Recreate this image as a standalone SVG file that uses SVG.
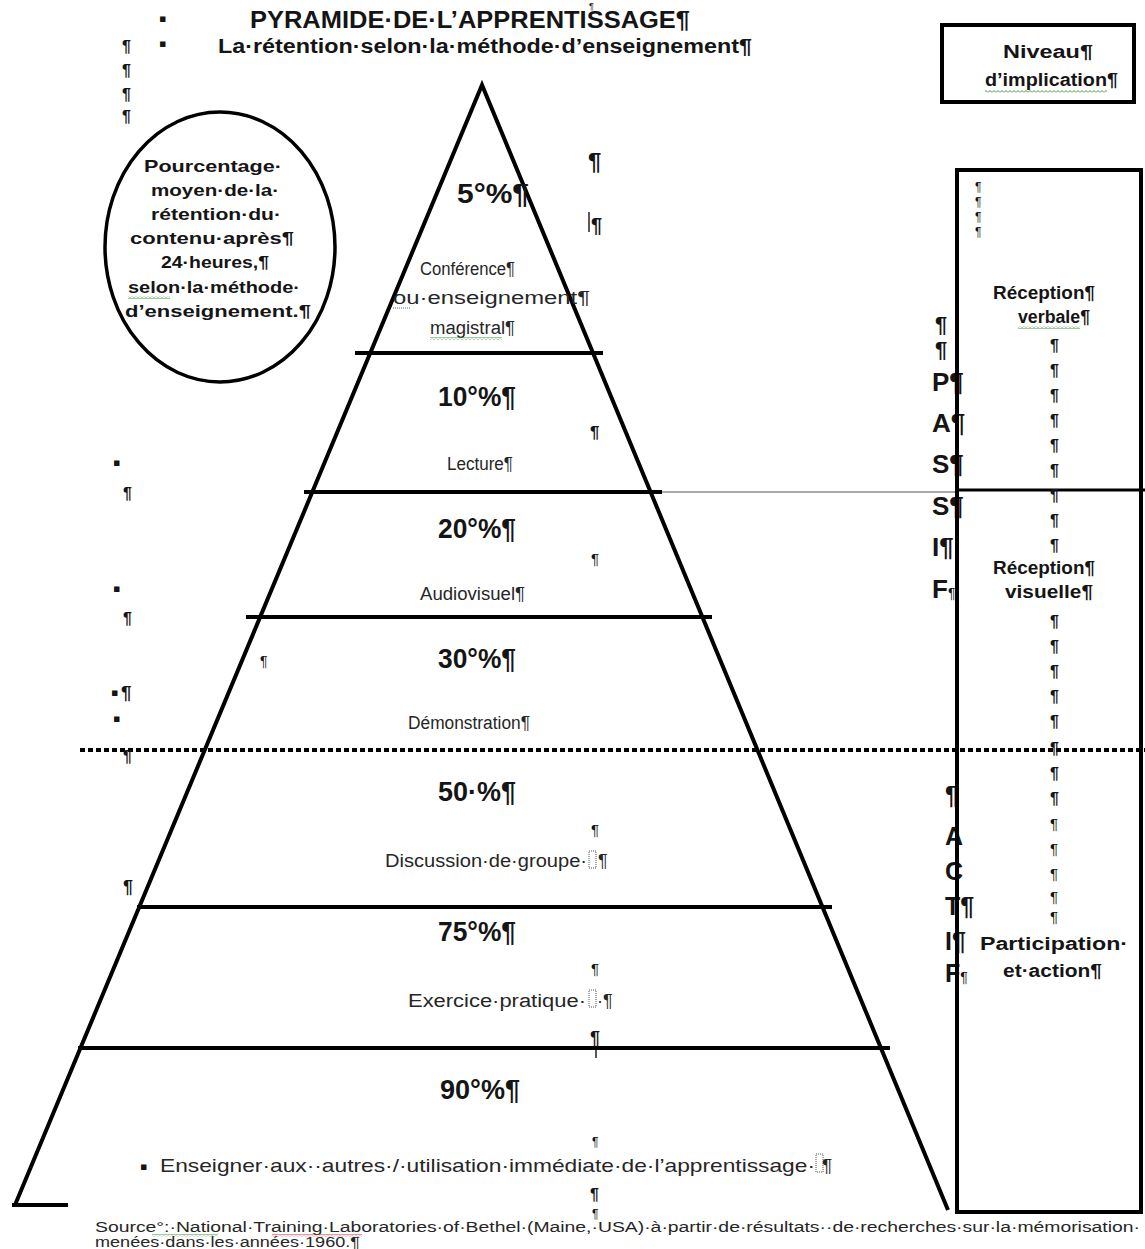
<svg xmlns="http://www.w3.org/2000/svg" width="1145" height="1249" viewBox="0 0 1145 1249">
  <defs>
    <style>
      text { font-family: "Liberation Sans", Arial, sans-serif; fill: #151515; }
      .title { font-size: 24px; font-weight: bold; }
      .sub { font-size: 20px; font-weight: bold; }
      .note { font-size: 17px; font-weight: bold; }
      .pct { font-size: 28px; font-weight: bold; }
      .lbl { font-size: 18px; fill: #262626; }
      .side { font-size: 26px; font-weight: bold; }
      .act { font-size: 25px; font-weight: bold; }
      .mark { font-size: 16px; font-weight: bold; }
      .marks { font-size: 12px; }
      .box { font-size: 18px; font-weight: bold; }
      .src { font-size: 14px; fill: #262626; }
      .blt { font-family: "DejaVu Sans", sans-serif; font-size: 11px; }
      .edge { stroke: #000; stroke-width: 4; fill: none; stroke-linecap: butt; }
      .frame { stroke: #000; stroke-width: 4; fill: none; }
      .anchor { fill: none; stroke: #555; stroke-width: 1; stroke-dasharray: 1 1; }
    </style>
    <pattern id="wave-green" width="4" height="3" patternUnits="userSpaceOnUse">
      <path d="M0 2.5 L2 0.5 L4 2.5" stroke="#3a9a3a" stroke-width="1" fill="none"/>
    </pattern>
    <pattern id="wave-red" width="4" height="3" patternUnits="userSpaceOnUse">
      <path d="M0 2.5 L2 0.5 L4 2.5" stroke="#d03030" stroke-width="1" fill="none"/>
    </pattern>
  </defs>

  <rect width="1145" height="1249" fill="#fff"/>

  <!-- heading -->
  <g id="title">
    <text class="blt" x="159" y="22">▪</text>
    <text class="blt" x="159" y="47">▪</text>
    <text class="marks" x="589" y="9" style="font-size:9px">¶</text>
    <text class="title" x="250" y="28" textLength="440" lengthAdjust="spacingAndGlyphs">PYRAMIDE·DE·L’APPRENTISSAGE¶</text>
    <text class="sub" x="218" y="53" textLength="534" lengthAdjust="spacingAndGlyphs">La·rétention·selon·la·méthode·d’enseignement¶</text>
    <text class="mark" x="122" y="52">¶</text>
    <text class="mark" x="122" y="76">¶</text>
    <text class="mark" x="122" y="100">¶</text>
    <text class="mark" x="122" y="122">¶</text>
  </g>

  <!-- level of involvement header -->
  <g id="niveau">
    <rect class="frame" x="942" y="25" width="192" height="77"/>
    <text class="box" x="1003" y="58" textLength="90" lengthAdjust="spacingAndGlyphs">Niveau¶</text>
    <text class="box" x="985" y="86" textLength="133" lengthAdjust="spacingAndGlyphs">d’implication¶</text>
    <rect x="985" y="90" width="122" height="3" fill="url(#wave-green)"/>
  </g>

  <!-- circled note -->
  <g id="circle-note">
    <ellipse cx="220" cy="247" rx="115" ry="135" fill="none" stroke="#000" stroke-width="3.5"/>
    <text class="note" x="144" y="172" textLength="138" lengthAdjust="spacingAndGlyphs">Pourcentage·</text>
    <text class="note" x="151" y="196" textLength="128" lengthAdjust="spacingAndGlyphs">moyen·de·la·</text>
    <text class="note" x="151" y="220" textLength="130" lengthAdjust="spacingAndGlyphs">rétention·du·</text>
    <text class="note" x="130" y="244" textLength="164" lengthAdjust="spacingAndGlyphs">contenu·après¶</text>
    <text class="note" x="161" y="268" textLength="108" lengthAdjust="spacingAndGlyphs">24·heures,¶</text>
    <text class="note" x="128" y="293" textLength="172" lengthAdjust="spacingAndGlyphs">selon·la·méthode·</text>
    <rect x="128" y="296" width="42" height="3" fill="url(#wave-green)"/>
    <text class="note" x="125" y="317" textLength="186" lengthAdjust="spacingAndGlyphs">d’enseignement.¶</text>
  </g>

  <!-- pyramid outline and tier rules -->
  <g id="rules">
    <path class="edge" d="M15 1205 L482 85 L948 1210"/>
    <line class="edge" x1="12" y1="1205" x2="68" y2="1205"/>
    <line class="edge" x1="355" y1="353" x2="603" y2="353"/>
    <line class="edge" x1="304" y1="492" x2="662" y2="492"/>
    <line x1="662" y1="492" x2="957" y2="492" stroke="#555" stroke-width="1.2"/>
    <line class="edge" x1="246" y1="617" x2="712" y2="617"/>
    <line x1="80" y1="750" x2="1145" y2="750" stroke="#000" stroke-width="4" stroke-dasharray="5 3"/>
    <line class="edge" x1="137" y1="907" x2="832" y2="907"/>
    <line class="edge" x1="78" y1="1048" x2="890" y2="1048"/>
  </g>

  <!-- tiers -->
  <g id="tier-5">
    <text class="pct" x="457" y="203" textLength="72" lengthAdjust="spacingAndGlyphs">5°%¶</text>
    <text class="lbl" x="420" y="275" textLength="95" lengthAdjust="spacingAndGlyphs">Conférence¶</text>
    <text class="lbl" x="393" y="304" textLength="197" lengthAdjust="spacingAndGlyphs">ou·enseignement¶</text>
    <line x1="393" y1="308" x2="410" y2="308" stroke="#4a6fb0" stroke-width="1" stroke-dasharray="1 1"/>
    <text class="lbl" x="430" y="334" textLength="85" lengthAdjust="spacingAndGlyphs">magistral¶</text>
    <rect x="430" y="337" width="72" height="3" fill="url(#wave-green)"/>
    <text class="side" x="588" y="170" style="font-size:24px">¶</text>
    <line x1="589" y1="212" x2="589" y2="232" stroke="#222" stroke-width="1.5"/>
    <text class="mark" x="591" y="232" style="font-size:20px">¶</text>
  </g>

  <g id="tier-10">
    <text class="pct" x="438" y="406" textLength="78" lengthAdjust="spacingAndGlyphs">10°%¶</text>
    <text class="mark" x="590" y="438" style="font-size:17px">¶</text>
    <text class="lbl" x="447" y="470" textLength="66" lengthAdjust="spacingAndGlyphs">Lecture¶</text>
  </g>

  <g id="tier-20">
    <text class="pct" x="438" y="538" textLength="78" lengthAdjust="spacingAndGlyphs">20°%¶</text>
    <text class="marks" x="591" y="564" style="font-size:15px">¶</text>
    <text class="lbl" x="420" y="600" textLength="105" lengthAdjust="spacingAndGlyphs">Audiovisuel¶</text>
  </g>

  <g id="tier-30">
    <text class="pct" x="438" y="668" textLength="78" lengthAdjust="spacingAndGlyphs">30°%¶</text>
    <text class="marks" x="260" y="666" style="font-size:14px">¶</text>
    <text class="lbl" x="408" y="729" textLength="122" lengthAdjust="spacingAndGlyphs">Démonstration¶</text>
  </g>

  <g id="tier-50">
    <text class="pct" x="438" y="801" textLength="78" lengthAdjust="spacingAndGlyphs">50·%¶</text>
    <text class="marks" x="591" y="835" style="font-size:15px">¶</text>
    <text class="lbl" x="385" y="867" textLength="202" lengthAdjust="spacingAndGlyphs">Discussion·de·groupe·</text>
    <rect class="anchor" x="589" y="851" width="7" height="17"/>
    <text class="lbl" x="598" y="867">¶</text>
  </g>

  <g id="tier-75">
    <text class="pct" x="438" y="941" textLength="78" lengthAdjust="spacingAndGlyphs">75°%¶</text>
    <text class="marks" x="591" y="974" style="font-size:15px">¶</text>
    <text class="lbl" x="408" y="1007" textLength="178" lengthAdjust="spacingAndGlyphs">Exercice·pratique·</text>
    <rect class="anchor" x="589" y="990" width="7" height="17"/>
    <text class="lbl" x="597" y="1007">·¶</text>
    <text class="mark" x="590" y="1044" style="font-size:18px">¶</text>
    <line x1="596" y1="1050" x2="596" y2="1058" stroke="#222" stroke-width="1.5"/>
  </g>

  <g id="tier-90">
    <text class="pct" x="440" y="1099" textLength="80" lengthAdjust="spacingAndGlyphs">90°%¶</text>
    <text class="marks" x="592" y="1146">¶</text>
    <text class="blt" x="140" y="1170">▪</text>
    <text class="lbl" x="160" y="1172" style="font-size:19px" textLength="655" lengthAdjust="spacingAndGlyphs">Enseigner·aux··autres·/·utilisation·immédiate·de·l’apprentissage·</text>
    <rect class="anchor" x="816" y="1154" width="7" height="18"/>
    <text class="lbl" x="822" y="1172" style="font-size:19px">¶</text>
    <text class="mark" x="590" y="1200">¶</text>
    <text class="marks" x="592" y="1218">¶</text>
  </g>

  <!-- stray paragraph marks on the left margin -->
  <g id="margin-marks">
    <text class="blt" x="113" y="466">▪</text>
    <text class="mark" x="123" y="499">¶</text>
    <text class="blt" x="113" y="592">▪</text>
    <text class="mark" x="123" y="624">¶</text>
    <text class="blt" x="111" y="696">▪</text>
    <text class="mark" x="121" y="699" style="font-size:19px">¶</text>
    <text class="blt" x="113" y="722">▪</text>
    <text class="mark" x="123" y="762">¶</text>
    <text class="mark" x="123" y="893" style="font-size:18px">¶</text>
  </g>

  <!-- PASSIF / ACTIF columns -->
  <g id="passif">
    <text class="side" x="935" y="332" style="font-size:22px">¶</text>
    <text class="side" x="935" y="357" style="font-size:22px">¶</text>
    <text class="side" x="932" y="391">P¶</text>
    <text class="side" x="932" y="432">A¶</text>
    <text class="side" x="932" y="473">S¶</text>
    <text class="side" x="932" y="515">S¶</text>
    <text class="side" x="932" y="556">I¶</text>
    <text class="side" x="932" y="598">F<tspan style="font-size:14px;font-weight:normal">¶</tspan></text>
  </g>

  <g id="actif">
    <text class="act" x="945" y="804">¶</text>
    <text class="act" x="945" y="845">A</text>
    <text class="act" x="945" y="880">C</text>
    <text class="act" x="945" y="915">T¶</text>
    <text class="act" x="945" y="950">I¶</text>
    <text class="act" x="945" y="982">F<tspan style="font-size:14px;font-weight:normal">¶</tspan></text>
  </g>

  <!-- reception / participation scale -->
  <g id="scale-box">
    <rect class="frame" x="957" y="170" width="184" height="1042"/>
    <line x1="957" y1="490" x2="1145" y2="490" stroke="#000" stroke-width="3"/>
    <text class="marks" x="975" y="191">¶</text>
    <text class="marks" x="975" y="206">¶</text>
    <text class="marks" x="975" y="221">¶</text>
    <text class="marks" x="975" y="236">¶</text>
    <text class="box" x="993" y="299" textLength="102" lengthAdjust="spacingAndGlyphs">Réception¶</text>
    <text class="box" x="1018" y="323" textLength="72" lengthAdjust="spacingAndGlyphs">verbale¶</text>
    <rect x="1018" y="326" width="62" height="3" fill="url(#wave-green)"/>
    <g class="mark">
      <text x="1050" y="351">¶</text>
      <text x="1050" y="376">¶</text>
      <text x="1050" y="401">¶</text>
      <text x="1050" y="426">¶</text>
      <text x="1050" y="451">¶</text>
      <text x="1050" y="476">¶</text>
      <text x="1050" y="501">¶</text>
      <text x="1050" y="526">¶</text>
      <text x="1050" y="551">¶</text>
    </g>
    <text class="box" x="993" y="574" textLength="102" lengthAdjust="spacingAndGlyphs">Réception¶</text>
    <text class="box" x="1005" y="598" textLength="88" lengthAdjust="spacingAndGlyphs">visuelle¶</text>
    <g class="mark">
      <text x="1050" y="627">¶</text>
      <text x="1050" y="652">¶</text>
      <text x="1050" y="677">¶</text>
      <text x="1050" y="702">¶</text>
      <text x="1050" y="727">¶</text>
      <text x="1050" y="754">¶</text>
      <text x="1050" y="779">¶</text>
      <text x="1050" y="804">¶</text>
    </g>
    <g class="marks" style="font-size:15px">
      <text x="1050" y="829">¶</text>
      <text x="1050" y="854">¶</text>
      <text x="1050" y="879">¶</text>
      <text x="1050" y="902">¶</text>
      <text x="1050" y="922">¶</text>
    </g>
    <text class="box" x="980" y="950" textLength="148" lengthAdjust="spacingAndGlyphs">Participation·</text>
    <text class="box" x="1003" y="977" textLength="99" lengthAdjust="spacingAndGlyphs">et·action¶</text>
  </g>

  <!-- source line -->
  <g id="source">
    <text class="src" x="95" y="1232" textLength="1045" lengthAdjust="spacingAndGlyphs">Source°:·National·Training·Laboratories·of·Bethel·(Maine,·USA)·à·partir·de·résultats··de·recherches·sur·la·mémorisation·</text>
    <rect x="152" y="1234" width="66" height="2.5" fill="url(#wave-green)"/>
    <rect x="272" y="1234" width="90" height="2.5" fill="url(#wave-red)"/>
    <text class="src" x="95" y="1247" textLength="265" lengthAdjust="spacingAndGlyphs">menées·dans·les·années·1960.¶</text>
  </g>
</svg>
